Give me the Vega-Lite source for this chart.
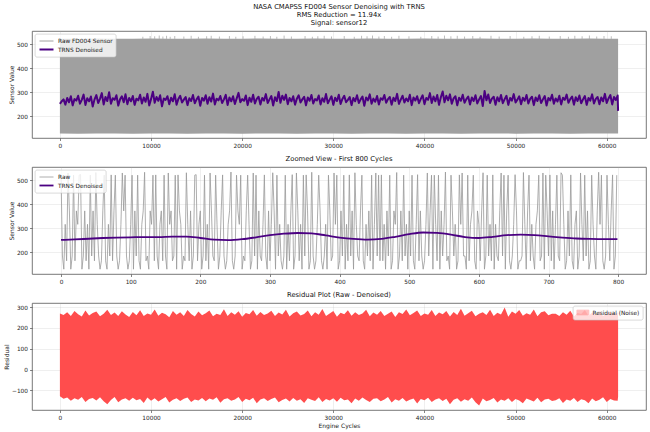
{
"$schema":"https://vega.github.io/schema/vega-lite/v6.json",
"background":"white",
"padding":{"left":3,"top":3,"right":3,"bottom":2},
"spacing":6,
"config":{
"font":"DejaVu Sans",
"view":{"stroke":"#555555","strokeWidth":0.8},
"axis":{"domain":false,"labelOverlap":false,"tickColor":"#333333","tickSize":2.5,"tickWidth":0.6,"labelFontSize":5.8,"labelColor":"#222222","labelPadding":2,"titleFontSize":6,"titleFontWeight":"normal","titleColor":"#222222","titlePadding":2,"grid":true,"gridColor":"#b0b0b0","gridOpacity":0.35,"gridWidth":0.6},
"title":{"fontSize":6.8,"fontWeight":"normal","color":"#111111","offset":4,"lineHeight":8,"anchor":"middle"},
"legend":{"labelFontSize":5.8,"labelColor":"#222222","fillColor":"rgba(255,255,255,0.8)","strokeColor":"#c0c0c0","strokeWidth":0.6,"cornerRadius":2,"padding":3,"offset":3,"rowPadding":1,"symbolType":"M-2,0H2","symbolSize":49,"symbolOffset":4,"labelOffset":7}
},
"resolve":{"scale":{"color":"independent","strokeWidth":"independent"},"legend":{"color":"independent","strokeWidth":"independent"}},
"datasets":{
"raw1":[{"c":0,"lo":128,"hi":523},{"c":2000,"lo":127,"hi":523},{"c":4000,"lo":128,"hi":524},{"c":6000,"lo":128,"hi":523},{"c":8000,"lo":127,"hi":523},{"c":10000,"lo":128,"hi":524},{"c":12000,"lo":128,"hi":523},{"c":14000,"lo":127,"hi":523},{"c":16000,"lo":128,"hi":524},{"c":18000,"lo":128,"hi":523},{"c":20000,"lo":127,"hi":523},{"c":22000,"lo":128,"hi":524},{"c":24000,"lo":128,"hi":523},{"c":26000,"lo":127,"hi":523},{"c":28000,"lo":128,"hi":524},{"c":30000,"lo":128,"hi":523},{"c":32000,"lo":127,"hi":523},{"c":34000,"lo":128,"hi":524},{"c":36000,"lo":128,"hi":523},{"c":38000,"lo":127,"hi":523},{"c":40000,"lo":128,"hi":524},{"c":42000,"lo":128,"hi":523},{"c":44000,"lo":127,"hi":523},{"c":46000,"lo":128,"hi":524},{"c":48000,"lo":128,"hi":523},{"c":50000,"lo":127,"hi":523},{"c":52000,"lo":128,"hi":524},{"c":54000,"lo":128,"hi":523},{"c":56000,"lo":127,"hi":523},{"c":58000,"lo":128,"hi":524},{"c":60000,"lo":128,"hi":523},{"c":61248,"lo":128,"hi":523}],
"spk1":[{"c":9100,"b":522,"top":531},{"c":9900,"b":522,"top":534},{"c":10400,"b":522,"top":533},{"c":10900,"b":522,"top":536},{"c":11300,"b":522,"top":532},{"c":11700,"b":522,"top":535},{"c":12100,"b":522,"top":531},{"c":12600,"b":522,"top":534},{"c":13600,"b":522,"top":532},{"c":14400,"b":522,"top":535},{"c":15200,"b":522,"top":531},{"c":16100,"b":522,"top":533},{"c":16600,"b":522,"top":535},{"c":17500,"b":522,"top":532},{"c":18600,"b":522,"top":534},{"c":19300,"b":522,"top":531},{"c":20100,"b":522,"top":533},{"c":21400,"b":522,"top":535},{"c":22300,"b":522,"top":532},{"c":23100,"b":522,"top":534},{"c":23800,"b":522,"top":531},{"c":24600,"b":522,"top":536},{"c":25400,"b":522,"top":532},{"c":26900,"b":522,"top":534},{"c":27700,"b":522,"top":531},{"c":28300,"b":522,"top":533},{"c":29000,"b":522,"top":535},{"c":29800,"b":522,"top":532},{"c":31200,"b":522,"top":534},{"c":32300,"b":522,"top":531},{"c":33100,"b":522,"top":535},{"c":33700,"b":522,"top":533},{"c":34300,"b":522,"top":536},{"c":35000,"b":522,"top":532},{"c":35600,"b":522,"top":534},{"c":36400,"b":522,"top":531},{"c":37200,"b":522,"top":535},{"c":38300,"b":522,"top":533},{"c":39600,"b":522,"top":531},{"c":40800,"b":522,"top":534},{"c":41500,"b":522,"top":532},{"c":42200,"b":522,"top":536},{"c":42900,"b":522,"top":533},{"c":43600,"b":522,"top":535},{"c":44400,"b":522,"top":532},{"c":45300,"b":522,"top":534},{"c":46100,"b":522,"top":531},{"c":47300,"b":522,"top":535},{"c":48200,"b":522,"top":532},{"c":49400,"b":522,"top":534},{"c":50900,"b":522,"top":531},{"c":51800,"b":522,"top":533},{"c":52600,"b":522,"top":535},{"c":53700,"b":522,"top":532},{"c":54900,"b":522,"top":534},{"c":55800,"b":522,"top":531},{"c":56500,"b":522,"top":535},{"c":57300,"b":522,"top":533},{"c":58100,"b":522,"top":536},{"c":58900,"b":522,"top":532},{"c":59700,"b":522,"top":534},{"c":60500,"b":522,"top":533}],
"den1":[{"c":0,"v":251},{"c":200,"v":262},{"c":400,"v":270},{"c":600,"v":248},{"c":800,"v":276},{"c":1000,"v":258},{"c":1200,"v":283},{"c":1400,"v":245},{"c":1600,"v":271},{"c":1800,"v":265},{"c":2000,"v":285},{"c":2200,"v":252},{"c":2400,"v":268},{"c":2600,"v":290},{"c":2800,"v":247},{"c":3000,"v":275},{"c":3200,"v":262},{"c":3400,"v":282},{"c":3600,"v":240},{"c":3800,"v":270},
{"c":4000,"v":288},{"c":4200,"v":255},{"c":4400,"v":272},{"c":4600,"v":296},{"c":4800,"v":249},{"c":5000,"v":280},{"c":5200,"v":263},{"c":5400,"v":300},{"c":5600,"v":252},{"c":5800,"v":275},{"c":6000,"v":268},{"c":6200,"v":287},{"c":6400,"v":244},{"c":6600,"v":270},{"c":6800,"v":283},{"c":7000,"v":258},{"c":7200,"v":291},{"c":7400,"v":250},{"c":7600,"v":276},{"c":7800,"v":262},
{"c":8000,"v":284},{"c":8200,"v":247},{"c":8400,"v":273},{"c":8600,"v":266},{"c":8800,"v":289},{"c":9000,"v":253},{"c":9200,"v":278},{"c":9400,"v":260},{"c":9600,"v":293},{"c":9800,"v":245},{"c":10000,"v":271},{"c":10200,"v":302},{"c":10400,"v":256},{"c":10600,"v":280},{"c":10800,"v":264},{"c":11000,"v":287},{"c":11200,"v":241},{"c":11400,"v":274},{"c":11600,"v":268},{"c":11800,"v":283},
{"c":12000,"v":250},{"c":12200,"v":277},{"c":12400,"v":262},{"c":12600,"v":291},{"c":12800,"v":248},{"c":13000,"v":272},{"c":13200,"v":285},{"c":13400,"v":257},{"c":13600,"v":269},{"c":13800,"v":280},{"c":14000,"v":246},{"c":14200,"v":275},{"c":14400,"v":263},{"c":14600,"v":288},{"c":14800,"v":254},{"c":15000,"v":270},{"c":15200,"v":282},{"c":15400,"v":243},{"c":15600,"v":276},{"c":15800,"v":265},
{"c":16000,"v":287},{"c":16200,"v":252},{"c":16400,"v":279},{"c":16600,"v":261},{"c":16800,"v":294},{"c":17000,"v":249},{"c":17200,"v":273},{"c":17400,"v":266},{"c":17600,"v":284},{"c":17800,"v":255},{"c":18000,"v":270},{"c":18200,"v":289},{"c":18400,"v":247},{"c":18600,"v":278},{"c":18800,"v":262},{"c":19000,"v":283},{"c":19200,"v":251},{"c":19400,"v":274},{"c":19600,"v":297},{"c":19800,"v":258},
{"c":20000,"v":271},{"c":20200,"v":264},{"c":20400,"v":286},{"c":20600,"v":246},{"c":20800,"v":277},{"c":21000,"v":260},{"c":21200,"v":289},{"c":21400,"v":253},{"c":21600,"v":272},{"c":21800,"v":281},{"c":22000,"v":249},{"c":22200,"v":276},{"c":22400,"v":265},{"c":22600,"v":292},{"c":22800,"v":255},{"c":23000,"v":270},{"c":23200,"v":284},{"c":23400,"v":244},{"c":23600,"v":279},{"c":23800,"v":263},
{"c":24000,"v":301},{"c":24200,"v":256},{"c":24400,"v":285},{"c":24600,"v":268},{"c":24800,"v":290},{"c":25000,"v":250},{"c":25200,"v":276},{"c":25400,"v":262},{"c":25600,"v":283},{"c":25800,"v":248},{"c":26000,"v":273},{"c":26200,"v":287},{"c":26400,"v":257},{"c":26600,"v":270},{"c":26800,"v":281},{"c":27000,"v":245},{"c":27200,"v":278},{"c":27400,"v":264},{"c":27600,"v":288},{"c":27800,"v":253},
{"c":28000,"v":271},{"c":28200,"v":266},{"c":28400,"v":286},{"c":28600,"v":249},{"c":28800,"v":275},{"c":29000,"v":260},{"c":29200,"v":292},{"c":29400,"v":254},{"c":29600,"v":269},{"c":29800,"v":283},{"c":30000,"v":247},{"c":30200,"v":277},{"c":30400,"v":263},{"c":30600,"v":289},{"c":30800,"v":251},{"c":31000,"v":272},{"c":31200,"v":285},{"c":31400,"v":258},{"c":31600,"v":268},{"c":31800,"v":280},
{"c":32000,"v":246},{"c":32200,"v":276},{"c":32400,"v":262},{"c":32600,"v":287},{"c":32800,"v":255},{"c":33000,"v":270},{"c":33200,"v":282},{"c":33400,"v":243},{"c":33600,"v":278},{"c":33800,"v":266},{"c":34000,"v":291},{"c":34200,"v":252},{"c":34400,"v":273},{"c":34600,"v":260},{"c":34800,"v":284},{"c":35000,"v":249},{"c":35200,"v":275},{"c":35400,"v":268},{"c":35600,"v":288},{"c":35800,"v":256},
{"c":36000,"v":271},{"c":36200,"v":280},{"c":36400,"v":248},{"c":36600,"v":277},{"c":36800,"v":263},{"c":37000,"v":293},{"c":37200,"v":251},{"c":37400,"v":269},{"c":37600,"v":285},{"c":37800,"v":257},{"c":38000,"v":274},{"c":38200,"v":262},{"c":38400,"v":289},{"c":38600,"v":246},{"c":38800,"v":278},{"c":39000,"v":265},{"c":39200,"v":283},{"c":39400,"v":254},{"c":39600,"v":272},{"c":39800,"v":287},
{"c":40000,"v":250},{"c":40200,"v":276},{"c":40400,"v":268},{"c":40600,"v":296},{"c":40800,"v":255},{"c":41000,"v":282},{"c":41200,"v":262},{"c":41400,"v":288},{"c":41600,"v":247},{"c":41800,"v":279},{"c":42000,"v":303},{"c":42200,"v":258},{"c":42400,"v":285},{"c":42600,"v":266},{"c":42800,"v":291},{"c":43000,"v":252},{"c":43200,"v":274},{"c":43400,"v":283},{"c":43600,"v":245},{"c":43800,"v":277},
{"c":44000,"v":264},{"c":44200,"v":289},{"c":44400,"v":256},{"c":44600,"v":271},{"c":44800,"v":282},{"c":45000,"v":249},{"c":45200,"v":278},{"c":45400,"v":263},{"c":45600,"v":287},{"c":45800,"v":253},{"c":46000,"v":270},{"c":46200,"v":284},{"c":46400,"v":242},{"c":46600,"v":305},{"c":46800,"v":266},{"c":47000,"v":290},{"c":47200,"v":255},{"c":47400,"v":273},{"c":47600,"v":281},{"c":47800,"v":248},
{"c":48000,"v":279},{"c":48200,"v":262},{"c":48400,"v":288},{"c":48600,"v":254},{"c":48800,"v":271},{"c":49000,"v":285},{"c":49200,"v":247},{"c":49400,"v":276},{"c":49600,"v":265},{"c":49800,"v":292},{"c":50000,"v":257},{"c":50200,"v":269},{"c":50400,"v":283},{"c":50600,"v":250},{"c":50800,"v":277},{"c":51000,"v":264},{"c":51200,"v":288},{"c":51400,"v":253},{"c":51600,"v":272},{"c":51800,"v":281},
{"c":52000,"v":246},{"c":52200,"v":278},{"c":52400,"v":263},{"c":52600,"v":287},{"c":52800,"v":255},{"c":53000,"v":270},{"c":53200,"v":284},{"c":53400,"v":244},{"c":53600,"v":276},{"c":53800,"v":266},{"c":54000,"v":289},{"c":54200,"v":252},{"c":54400,"v":274},{"c":54600,"v":261},{"c":54800,"v":285},{"c":55000,"v":249},{"c":55200,"v":277},{"c":55400,"v":268},{"c":55600,"v":290},{"c":55800,"v":256},
{"c":56000,"v":271},{"c":56200,"v":282},{"c":56400,"v":248},{"c":56600,"v":279},{"c":56800,"v":263},{"c":57000,"v":286},{"c":57200,"v":254},{"c":57400,"v":270},{"c":57600,"v":284},{"c":57800,"v":247},{"c":58000,"v":276},{"c":58200,"v":265},{"c":58400,"v":291},{"c":58600,"v":253},{"c":58800,"v":272},{"c":59000,"v":280},{"c":59200,"v":250},{"c":59400,"v":278},{"c":59600,"v":262},{"c":59800,"v":293},
{"c":60000,"v":255},{"c":60200,"v":274},{"c":60400,"v":288},{"c":60600,"v":249},{"c":60800,"v":280},{"c":61000,"v":268},{"c":61200,"v":286},{"c":61248,"v":222}],
"raw2":[{"c":0,"v":521},{"c":2,"v":184},{"c":4,"v":129},{"c":6,"v":316},{"c":8,"v":164},{"c":10,"v":530},{"c":12,"v":372},{"c":14,"v":129},{"c":16,"v":184},{"c":18,"v":521},
{"c":20,"v":164},{"c":22,"v":372},{"c":24,"v":316},{"c":26,"v":521},{"c":28,"v":524},{"c":30,"v":129},{"c":32,"v":184},{"c":34,"v":372},{"c":36,"v":164},{"c":38,"v":316},
{"c":40,"v":129},{"c":42,"v":521},{"c":44,"v":184},{"c":46,"v":372},{"c":48,"v":164},{"c":50,"v":532},{"c":52,"v":316},{"c":54,"v":184},{"c":56,"v":129},{"c":58,"v":164},
{"c":60,"v":372},{"c":62,"v":521},{"c":64,"v":164},{"c":66,"v":129},{"c":68,"v":316},{"c":70,"v":184},{"c":72,"v":522},{"c":74,"v":164},{"c":76,"v":372},{"c":78,"v":521},
{"c":80,"v":184},{"c":82,"v":129},{"c":84,"v":164},{"c":86,"v":316},{"c":88,"v":530},{"c":90,"v":372},{"c":92,"v":521},{"c":94,"v":184},{"c":96,"v":129},{"c":98,"v":164},
{"c":100,"v":316},{"c":102,"v":521},{"c":104,"v":129},{"c":106,"v":372},{"c":108,"v":184},{"c":110,"v":521},{"c":112,"v":164},{"c":114,"v":129},{"c":116,"v":316},{"c":118,"v":372},
{"c":120,"v":533},{"c":122,"v":164},{"c":124,"v":184},{"c":126,"v":129},{"c":128,"v":372},{"c":130,"v":316},{"c":132,"v":521},{"c":134,"v":164},{"c":136,"v":522},{"c":138,"v":184},
{"c":140,"v":129},{"c":142,"v":316},{"c":144,"v":372},{"c":146,"v":164},{"c":148,"v":521},{"c":150,"v":184},{"c":152,"v":129},{"c":154,"v":530},{"c":156,"v":316},{"c":158,"v":372},
{"c":160,"v":164},{"c":162,"v":184},{"c":164,"v":521},{"c":166,"v":129},{"c":168,"v":522},{"c":170,"v":372},{"c":172,"v":316},{"c":174,"v":129},{"c":176,"v":184},{"c":178,"v":164},
{"c":180,"v":531},{"c":182,"v":316},{"c":184,"v":164},{"c":186,"v":372},{"c":188,"v":129},{"c":190,"v":184},{"c":192,"v":521},{"c":194,"v":523},{"c":196,"v":164},{"c":198,"v":316},
{"c":200,"v":372},{"c":202,"v":129},{"c":204,"v":184},{"c":206,"v":521},{"c":208,"v":164},{"c":210,"v":316},{"c":212,"v":129},{"c":214,"v":530},{"c":216,"v":372},{"c":218,"v":184},
{"c":220,"v":164},{"c":222,"v":521},{"c":224,"v":316},{"c":226,"v":129},{"c":228,"v":184},{"c":230,"v":372},{"c":232,"v":522},{"c":234,"v":184},{"c":236,"v":129},{"c":238,"v":164},
{"c":240,"v":316},{"c":242,"v":372},{"c":244,"v":534},{"c":246,"v":164},{"c":248,"v":129},{"c":250,"v":184},{"c":252,"v":521},{"c":254,"v":372},{"c":256,"v":316},{"c":258,"v":521},
{"c":260,"v":129},{"c":262,"v":184},{"c":264,"v":164},{"c":266,"v":372},{"c":268,"v":521},{"c":270,"v":316},{"c":272,"v":129},{"c":274,"v":164},{"c":276,"v":530},{"c":278,"v":184},
{"c":280,"v":521},{"c":282,"v":129},{"c":284,"v":372},{"c":286,"v":184},{"c":288,"v":164},{"c":290,"v":316},{"c":292,"v":522},{"c":294,"v":184},{"c":296,"v":129},{"c":298,"v":372},
{"c":300,"v":164},{"c":302,"v":316},{"c":304,"v":531},{"c":306,"v":372},{"c":308,"v":129},{"c":310,"v":521},{"c":312,"v":184},{"c":314,"v":316},{"c":316,"v":164},{"c":318,"v":129},
{"c":320,"v":184},{"c":322,"v":521},{"c":324,"v":129},{"c":326,"v":316},{"c":328,"v":164},{"c":330,"v":372},{"c":332,"v":523},{"c":334,"v":129},{"c":336,"v":184},{"c":338,"v":530},
{"c":340,"v":372},{"c":342,"v":164},{"c":344,"v":316},{"c":346,"v":129},{"c":348,"v":521},{"c":350,"v":184},{"c":352,"v":522},{"c":354,"v":372},{"c":356,"v":129},{"c":358,"v":164},
{"c":360,"v":533},{"c":362,"v":184},{"c":364,"v":129},{"c":366,"v":164},{"c":368,"v":316},{"c":370,"v":521},{"c":372,"v":372},{"c":374,"v":164},{"c":376,"v":129},{"c":378,"v":184},
{"c":380,"v":316},{"c":382,"v":129},{"c":384,"v":521},{"c":386,"v":372},{"c":388,"v":164},{"c":390,"v":184},{"c":392,"v":530},{"c":394,"v":316},{"c":396,"v":521},{"c":398,"v":129},
{"c":400,"v":164},{"c":402,"v":372},{"c":404,"v":184},{"c":406,"v":521},{"c":408,"v":129},{"c":410,"v":316},{"c":412,"v":164},{"c":414,"v":522},{"c":416,"v":184},{"c":418,"v":372},
{"c":420,"v":129},{"c":422,"v":531},{"c":424,"v":316},{"c":426,"v":184},{"c":428,"v":164},{"c":430,"v":372},{"c":432,"v":521},{"c":434,"v":164},{"c":436,"v":129},{"c":438,"v":316},
{"c":440,"v":184},{"c":442,"v":372},{"c":444,"v":164},{"c":446,"v":521},{"c":448,"v":129},{"c":450,"v":316},{"c":452,"v":530},{"c":454,"v":184},{"c":456,"v":521},{"c":458,"v":164},
{"c":460,"v":522},{"c":462,"v":164},{"c":464,"v":316},{"c":466,"v":129},{"c":468,"v":372},{"c":470,"v":184},{"c":472,"v":521},{"c":474,"v":129},{"c":476,"v":164},{"c":478,"v":372},
{"c":480,"v":316},{"c":482,"v":532},{"c":484,"v":129},{"c":486,"v":184},{"c":488,"v":372},{"c":490,"v":164},{"c":492,"v":521},{"c":494,"v":184},{"c":496,"v":316},{"c":498,"v":129},
{"c":500,"v":372},{"c":502,"v":184},{"c":504,"v":521},{"c":506,"v":164},{"c":508,"v":129},{"c":510,"v":316},{"c":512,"v":523},{"c":514,"v":164},{"c":516,"v":372},{"c":518,"v":184},
{"c":520,"v":129},{"c":522,"v":164},{"c":524,"v":316},{"c":526,"v":530},{"c":528,"v":184},{"c":530,"v":372},{"c":532,"v":521},{"c":534,"v":129},{"c":536,"v":521},{"c":538,"v":316},
{"c":540,"v":164},{"c":542,"v":521},{"c":544,"v":129},{"c":546,"v":372},{"c":548,"v":184},{"c":550,"v":316},{"c":552,"v":534},{"c":554,"v":164},{"c":556,"v":184},{"c":558,"v":129},
{"c":560,"v":521},{"c":562,"v":372},{"c":564,"v":184},{"c":566,"v":316},{"c":568,"v":129},{"c":570,"v":164},{"c":572,"v":522},{"c":574,"v":316},{"c":576,"v":530},{"c":578,"v":184},
{"c":580,"v":184},{"c":582,"v":129},{"c":584,"v":521},{"c":586,"v":164},{"c":588,"v":316},{"c":590,"v":372},{"c":592,"v":521},{"c":594,"v":164},{"c":596,"v":129},{"c":598,"v":372},
{"c":600,"v":316},{"c":602,"v":164},{"c":604,"v":372},{"c":606,"v":531},{"c":608,"v":129},{"c":610,"v":184},{"c":612,"v":521},{"c":614,"v":184},{"c":616,"v":316},{"c":618,"v":164},
{"c":620,"v":522},{"c":622,"v":129},{"c":624,"v":316},{"c":626,"v":184},{"c":628,"v":164},{"c":630,"v":372},{"c":632,"v":530},{"c":634,"v":184},{"c":636,"v":521},{"c":638,"v":129},
{"c":640,"v":372},{"c":642,"v":521},{"c":644,"v":164},{"c":646,"v":129},{"c":648,"v":184},{"c":650,"v":316},{"c":652,"v":523},{"c":654,"v":372},{"c":656,"v":129},{"c":658,"v":164},
{"c":660,"v":164},{"c":662,"v":184},{"c":664,"v":532},{"c":666,"v":316},{"c":668,"v":129},{"c":670,"v":372},{"c":672,"v":521},{"c":674,"v":164},{"c":676,"v":316},{"c":678,"v":184},
{"c":680,"v":129},{"c":682,"v":316},{"c":684,"v":372},{"c":686,"v":521},{"c":688,"v":164},{"c":690,"v":184},{"c":692,"v":530},{"c":694,"v":129},{"c":696,"v":521},{"c":698,"v":372},
{"c":700,"v":184},{"c":702,"v":522},{"c":704,"v":164},{"c":706,"v":372},{"c":708,"v":129},{"c":710,"v":316},{"c":712,"v":521},{"c":714,"v":184},{"c":716,"v":164},{"c":718,"v":531},
{"c":720,"v":521},{"c":722,"v":316},{"c":724,"v":129},{"c":726,"v":164},{"c":728,"v":372},{"c":730,"v":184},{"c":732,"v":522},{"c":734,"v":164},{"c":736,"v":129},{"c":738,"v":316},
{"c":740,"v":372},{"c":742,"v":129},{"c":744,"v":184},{"c":746,"v":530},{"c":748,"v":316},{"c":750,"v":164},{"c":752,"v":521},{"c":754,"v":184},{"c":756,"v":372},{"c":758,"v":129},
{"c":760,"v":164},{"c":762,"v":521},{"c":764,"v":316},{"c":766,"v":184},{"c":768,"v":129},{"c":770,"v":372},{"c":772,"v":533},{"c":774,"v":316},{"c":776,"v":521},{"c":778,"v":164},
{"c":780,"v":129},{"c":782,"v":184},{"c":784,"v":521},{"c":786,"v":316},{"c":788,"v":164},{"c":790,"v":372},{"c":792,"v":522},{"c":794,"v":129},{"c":796,"v":184},{"c":798,"v":521}],
"den2":[{"c":0,"v":251},{"c":20,"v":253},{"c":40,"v":256},{"c":60,"v":259},{"c":80,"v":261},{"c":100,"v":262},{"c":120,"v":263},{"c":140,"v":263},{"c":160,"v":265},{"c":180,"v":265},{"c":200,"v":259},{"c":220,"v":252},{"c":240,"v":250},{"c":260,"v":254},{"c":280,"v":262},{"c":300,"v":271},{"c":320,"v":277},{"c":340,"v":280},{"c":360,"v":278},{"c":380,"v":270},{"c":400,"v":261},{"c":420,"v":255},{"c":440,"v":252},{"c":460,"v":255},{"c":480,"v":264},{"c":500,"v":275},{"c":520,"v":282},{"c":540,"v":280},{"c":560,"v":273},{"c":580,"v":263},{"c":600,"v":259},{"c":620,"v":264},{"c":640,"v":271},{"c":660,"v":273},{"c":680,"v":271},{"c":700,"v":266},{"c":720,"v":261},{"c":740,"v":257},{"c":760,"v":255},{"c":780,"v":254},{"c":799,"v":254}],
"res":[{"c":0,"lo":-128,"hi":270},{"c":400,"lo":-140,"hi":262},{"c":800,"lo":-134,"hi":275},{"c":1200,"lo":-150,"hi":258},{"c":1600,"lo":-137,"hi":281},{"c":2000,"lo":-145,"hi":266},{"c":2400,"lo":-132,"hi":255},{"c":2800,"lo":-155,"hi":284},{"c":3200,"lo":-141,"hi":260},{"c":3600,"lo":-136,"hi":272},{"c":4000,"lo":-148,"hi":279},{"c":4400,"lo":-133,"hi":256},{"c":4800,"lo":-152,"hi":268},{"c":5200,"lo":-166,"hi":287},{"c":5600,"lo":-146,"hi":262},{"c":6000,"lo":-131,"hi":274},{"c":6400,"lo":-157,"hi":258},{"c":6800,"lo":-143,"hi":280},{"c":7200,"lo":-138,"hi":265},{"c":7600,"lo":-150,"hi":253},
{"c":8000,"lo":-135,"hi":277},{"c":8400,"lo":-147,"hi":261},{"c":8800,"lo":-141,"hi":285},{"c":9200,"lo":-160,"hi":257},{"c":9600,"lo":-134,"hi":270},{"c":10000,"lo":-149,"hi":264},{"c":10400,"lo":-138,"hi":289},{"c":10800,"lo":-153,"hi":259},{"c":11200,"lo":-142,"hi":273},{"c":11600,"lo":-131,"hi":266},{"c":12000,"lo":-158,"hi":252},{"c":12400,"lo":-145,"hi":282},{"c":12800,"lo":-137,"hi":263},{"c":13200,"lo":-151,"hi":276},{"c":13600,"lo":-140,"hi":258},{"c":14000,"lo":-134,"hi":286},{"c":14400,"lo":-156,"hi":267},{"c":14800,"lo":-143,"hi":255},{"c":15200,"lo":-148,"hi":279},{"c":15600,"lo":-136,"hi":261},
{"c":16000,"lo":-152,"hi":271},{"c":16400,"lo":-139,"hi":284},{"c":16800,"lo":-145,"hi":256},{"c":17200,"lo":-133,"hi":268},{"c":17600,"lo":-159,"hi":262},{"c":18000,"lo":-142,"hi":290},{"c":18400,"lo":-137,"hi":258},{"c":18800,"lo":-150,"hi":275},{"c":19200,"lo":-144,"hi":264},{"c":19600,"lo":-132,"hi":280},{"c":20000,"lo":-155,"hi":254},{"c":20400,"lo":-140,"hi":272},{"c":20800,"lo":-147,"hi":266},{"c":21200,"lo":-135,"hi":286},{"c":21600,"lo":-162,"hi":259},{"c":22000,"lo":-143,"hi":277},{"c":22400,"lo":-138,"hi":262},{"c":22800,"lo":-151,"hi":269},{"c":23200,"lo":-141,"hi":283},{"c":23600,"lo":-134,"hi":257},
{"c":24000,"lo":-157,"hi":274},{"c":24400,"lo":-146,"hi":265},{"c":24800,"lo":-139,"hi":288},{"c":25200,"lo":-153,"hi":255},{"c":25600,"lo":-136,"hi":271},{"c":26000,"lo":-149,"hi":279},{"c":26400,"lo":-142,"hi":260},{"c":26800,"lo":-160,"hi":267},{"c":27200,"lo":-137,"hi":284},{"c":27600,"lo":-145,"hi":256},{"c":28000,"lo":-151,"hi":276},{"c":28400,"lo":-133,"hi":263},{"c":28800,"lo":-156,"hi":291},{"c":29200,"lo":-141,"hi":258},{"c":29600,"lo":-148,"hi":270},{"c":30000,"lo":-138,"hi":281},{"c":30400,"lo":-154,"hi":254},{"c":30800,"lo":-135,"hi":273},{"c":31200,"lo":-147,"hi":266},{"c":31600,"lo":-143,"hi":285},
{"c":32000,"lo":-161,"hi":259},{"c":32400,"lo":-139,"hi":276},{"c":32800,"lo":-150,"hi":262},{"c":33200,"lo":-134,"hi":270},{"c":33600,"lo":-146,"hi":287},{"c":34000,"lo":-155,"hi":256},{"c":34400,"lo":-140,"hi":274},{"c":34800,"lo":-137,"hi":264},{"c":35200,"lo":-152,"hi":282},{"c":35600,"lo":-144,"hi":258},{"c":36000,"lo":-131,"hi":268},{"c":36400,"lo":-158,"hi":279},{"c":36800,"lo":-142,"hi":253},{"c":37200,"lo":-149,"hi":275},{"c":37600,"lo":-136,"hi":267},{"c":38000,"lo":-153,"hi":289},{"c":38400,"lo":-145,"hi":261},{"c":38800,"lo":-139,"hi":272},{"c":39200,"lo":-163,"hi":284},{"c":39600,"lo":-141,"hi":257},
{"c":40000,"lo":-147,"hi":270},{"c":40400,"lo":-135,"hi":263},{"c":40800,"lo":-156,"hi":286},{"c":41200,"lo":-143,"hi":258},{"c":41600,"lo":-138,"hi":274},{"c":42000,"lo":-151,"hi":266},{"c":42400,"lo":-140,"hi":281},{"c":42800,"lo":-166,"hi":255},{"c":43200,"lo":-145,"hi":277},{"c":43600,"lo":-137,"hi":262},{"c":44000,"lo":-154,"hi":292},{"c":44400,"lo":-142,"hi":259},{"c":44800,"lo":-149,"hi":271},{"c":45200,"lo":-134,"hi":283},{"c":45600,"lo":-157,"hi":256},{"c":46000,"lo":-172,"hi":268},{"c":46400,"lo":-139,"hi":276},{"c":46800,"lo":-152,"hi":262},{"c":47200,"lo":-146,"hi":288},{"c":47600,"lo":-136,"hi":257},
{"c":48000,"lo":-158,"hi":273},{"c":48400,"lo":-143,"hi":265},{"c":48800,"lo":-150,"hi":298},{"c":49200,"lo":-137,"hi":254},{"c":49600,"lo":-155,"hi":279},{"c":50000,"lo":-141,"hi":268},{"c":50400,"lo":-148,"hi":286},{"c":50800,"lo":-162,"hi":259},{"c":51200,"lo":-139,"hi":271},{"c":51600,"lo":-146,"hi":263},{"c":52000,"lo":-153,"hi":289},{"c":52400,"lo":-135,"hi":256},{"c":52800,"lo":-157,"hi":275},{"c":53200,"lo":-144,"hi":280},{"c":53600,"lo":-140,"hi":261},{"c":54000,"lo":-151,"hi":268},{"c":54400,"lo":-147,"hi":268},{"c":54800,"lo":-138,"hi":258},{"c":55200,"lo":-160,"hi":276},{"c":55600,"lo":-143,"hi":264},
{"c":56000,"lo":-149,"hi":283},{"c":56400,"lo":-136,"hi":255},{"c":56800,"lo":-155,"hi":272},{"c":57200,"lo":-142,"hi":267},{"c":57600,"lo":-147,"hi":286},{"c":58000,"lo":-161,"hi":259},{"c":58400,"lo":-139,"hi":274},{"c":58800,"lo":-152,"hi":262},{"c":59200,"lo":-145,"hi":281},{"c":59600,"lo":-133,"hi":257},{"c":60000,"lo":-156,"hi":270},{"c":60400,"lo":-141,"hi":278},{"c":60800,"lo":-148,"hi":263},{"c":61200,"lo":-150,"hi":275},{"c":61248,"lo":-130,"hi":252}]
},
"vconcat":[
{
"width":614,"height":107,
"title":{"text":["NASA CMAPSS FD004 Sensor Denoising with TRNS","RMS Reduction = 11.94x","Signal: sensor12"]},
"layer":[
{"data":{"name":"raw1"},"mark":{"type":"area","opacity":1},
"encoding":{
"x":{"field":"c","type":"quantitative","scale":{"domain":[-3062,64310],"nice":false,"zero":false},"axis":{"values":[0,10000,20000,30000,40000,50000,60000],"format":"d","title":null,"labelOverlap":false}},
"y":{"field":"lo","type":"quantitative","scale":{"domain":[109,555],"nice":false,"zero":false},"axis":{"values":[200,300,400,500],"format":"d","title":"Sensor Value","labelOverlap":false}},
"y2":{"field":"hi"},
"color":{"datum":"Raw FD004 Sensor","type":"nominal","scale":{"domain":["Raw FD004 Sensor","TRNS Denoised"],"range":["#a0a0a0","#4b0082"]},"legend":{"title":null,"orient":"top-left"}}
}},
{"data":{"name":"spk1"},"mark":{"type":"rule","color":"#a0a0a0","strokeWidth":0.7},
"encoding":{
"x":{"field":"c","type":"quantitative"},
"y":{"field":"b","type":"quantitative","axis":{"values":[200,300,400,500],"format":"d","title":"Sensor Value","labelOverlap":false}},
"y2":{"field":"top"}
}},
{"data":{"name":"den1"},"mark":{"type":"line","strokeJoin":"round"},
"encoding":{
"x":{"field":"c","type":"quantitative"},
"y":{"field":"v","type":"quantitative","axis":{"values":[200,300,400,500],"format":"d","title":"Sensor Value","labelOverlap":false}},
"color":{"datum":"TRNS Denoised","type":"nominal","scale":{"domain":["Raw FD004 Sensor","TRNS Denoised"],"range":["#a0a0a0","#4b0082"]},"legend":{"title":null,"orient":"top-left"}},
"strokeWidth":{"datum":"TRNS Denoised","type":"ordinal","scale":{"domain":["Raw FD004 Sensor","TRNS Denoised"],"range":[1,2]},"legend":{"title":null,"orient":"top-left"}}
}}
]
},
{
"width":614,"height":107,
"title":{"text":"Zoomed View - First 800 Cycles"},
"layer":[
{"data":{"name":"raw2"},"mark":{"type":"line"},
"encoding":{
"x":{"field":"c","type":"quantitative","scale":{"domain":[-41.7,840],"nice":false,"zero":false},"axis":{"values":[0,100,200,300,400,500,600,700,800],"format":"d","title":null,"labelOverlap":false}},
"y":{"field":"v","type":"quantitative","scale":{"domain":[109,555],"nice":false,"zero":false},"axis":{"values":[200,300,400,500],"format":"d","title":"Sensor Value","labelOverlap":false}},
"color":{"datum":"Raw","type":"nominal","scale":{"domain":["Raw","TRNS Denoised"],"range":["#999999","#4b0082"]},"legend":{"title":null,"orient":"top-left"}},
"strokeWidth":{"datum":"Raw","type":"ordinal","scale":{"domain":["Raw","TRNS Denoised"],"range":[0.8,1.8]},"legend":{"title":null,"orient":"top-left"}}
}},
{"data":{"name":"den2"},"mark":{"type":"line","interpolate":"monotone"},
"encoding":{
"x":{"field":"c","type":"quantitative"},
"y":{"field":"v","type":"quantitative","axis":{"values":[200,300,400,500],"format":"d","title":"Sensor Value","labelOverlap":false}},
"color":{"datum":"TRNS Denoised","type":"nominal","scale":{"domain":["Raw","TRNS Denoised"],"range":["#999999","#4b0082"]},"legend":{"title":null,"orient":"top-left"}},
"strokeWidth":{"datum":"TRNS Denoised","type":"ordinal","scale":{"domain":["Raw","TRNS Denoised"],"range":[0.8,1.8]},"legend":{"title":null,"orient":"top-left"}}
}}
]
},
{
"width":614,"height":107,
"title":{"text":"Residual Plot (Raw - Denoised)"},
"data":{"name":"res"},
"mark":{"type":"area","opacity":1},
"encoding":{
"x":{"field":"c","type":"quantitative","scale":{"domain":[-3062,64310],"nice":false,"zero":false},"axis":{"values":[0,10000,20000,30000,40000,50000,60000],"format":"d","title":"Engine Cycles","labelOverlap":false}},
"y":{"field":"lo","type":"quantitative","scale":{"domain":[-194,320],"nice":false,"zero":false},"axis":{"values":[-100,0,100,200,300],"title":"Residual","labelOverlap":false}},
"y2":{"field":"hi"},
"color":{"datum":"Residual (Noise)","type":"nominal","scale":{"domain":["Residual (Noise)"],"range":["#ff4d4d"]},"legend":{"title":null,"orient":"top-right","symbolType":"M-2,-0.8H2V0.8H-2Z","symbolSize":36,"symbolOffset":3.4,"labelOffset":6,"symbolOpacity":0.35,"symbolStrokeColor":"#ff4d4d","symbolStrokeWidth":0.8}}
}
}
]
}
